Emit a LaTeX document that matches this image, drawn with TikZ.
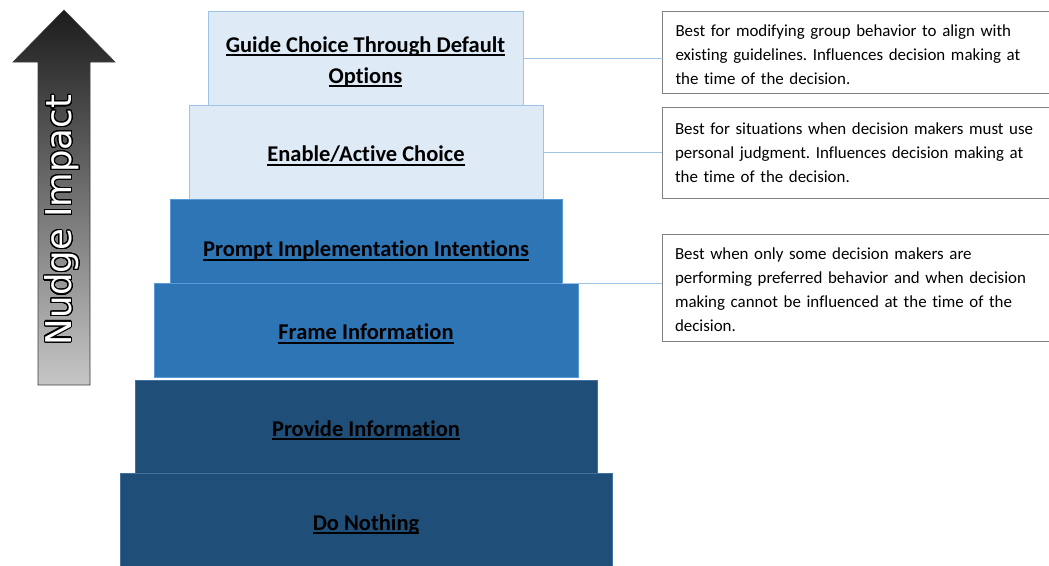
\documentclass[tikz,border=0pt]{standalone}
\usepackage{fontspec}
\setmainfont{Carlito}[Ligatures=NoCommon]
\newfontfamily\dejavu{DejaVu Sans}
\usepackage{contour}
\contourlength{1.1pt}
\contournumber{32}
\frenchspacing
\definecolor{lightfill}{HTML}{DEEBF7}
\definecolor{lightdraw}{HTML}{9DC3E6}
\definecolor{midfill}{HTML}{2E75B6}
\definecolor{middraw}{HTML}{5B9BD5}
\definecolor{darkfill}{HTML}{1F4E79}
\definecolor{darkdraw}{HTML}{41719C}
\definecolor{connc}{HTML}{9DC3E6}
\definecolor{boxgray}{HTML}{808080}
% underline; optional arg = extra space reserved above (moves text down by half of it)
\newcommand\myul[2][0pt]{\raisebox{0pt}[\dimexpr\height+#1\relax][\depth]{\setbox0=\hbox{#2}\rlap{\rule[-3.8pt]{\wd0}{1.9pt}}\box0}}
\tikzset{
  stepbase/.style={rectangle, inner sep=0pt, outer sep=0pt, line width=0.9pt,
    font=\bfseries\fontsize{22.5}{31}\selectfont, align=center, text=black},
  lightbox/.style={stepbase, fill=lightfill, draw=lightdraw},
  midbox/.style={stepbase, fill=midfill, draw=middraw},
  darkbox/.style={stepbase, fill=darkfill, draw=darkdraw},
  notebox/.style={rectangle, draw=boxgray, fill=white, line width=0.9pt, outer sep=0pt,
    inner xsep=13pt, inner ysep=0pt, text width=363pt, align=left,
    font=\fontsize{16.9}{24}\selectfont},
  conn/.style={draw=connc, line width=0.9pt}
}
\begin{document}
\begin{tikzpicture}[x=1pt,y=-1pt]
\useasboundingbox (0,0) rectangle (1049,565);
% arrow
\path[top color={rgb,255:red,28;green,28;blue,28}, bottom color={rgb,255:red,198;green,198;blue,198}, draw={rgb,255:red,60;green,60;blue,60}, line width=0.6pt]
  (64,10) -- (115,62) -- (90,62) -- (90,385) -- (38,385) -- (38,62) -- (13,62) -- cycle;
\node[rotate=90, text=white, font=\dejavu\fontsize{35.5}{36}\selectfont, inner sep=0pt] (nudge) at (62,220) {\contour{black}{Nudge Impact}};
% steps
\node[lightbox, minimum width=315, minimum height=94] (guide) at (365.5,58) {\myul[8pt]{Guide Choice Through Default}\\\myul{Options}};
\node[lightbox, minimum width=354, minimum height=94] (enable) at (366,152) {\myul[8pt]{Enable/Active Choice}};
\node[midbox, minimum width=392, minimum height=84] (prompt) at (366,241) {\myul[20pt]{Prompt Implementation Intentions}};
\node[midbox, minimum width=424, minimum height=94] (frame) at (366,330) {\myul[8pt]{Frame Information}};
\node[darkbox, minimum width=462, minimum height=94] (provide) at (366,427) {\myul[6pt]{Provide Information}};
\node[darkbox, minimum width=492, minimum height=93] (nothing) at (366,520) {\myul[9pt]{Do Nothing}};
% notes
\node[notebox, minimum height=82] (t1) at (857,52) {\rule{0pt}{18pt}Best for modifying group behavior to align with\\existing guidelines. Influences decision making at\\the time of the decision.};
\node[notebox, minimum height=91] (t2) at (856.5,152.5) {Best for situations when decision makers must use\\personal judgment. Influences decision making at\\the time of the decision.};
\node[notebox, minimum height=107] (t3) at (856.5,287.5) {\rule{0pt}{16pt}Best when only some decision makers are\\performing preferred behavior and when decision\\making cannot be influenced at the time of the\\decision.};
% connectors
\draw[conn] (guide.east) -- (guide.east -| t1.west);
\draw[conn] (enable.east) -- (enable.east -| t2.west);
\draw[conn] (prompt.south east) -- (prompt.south east -| t3.west);
\end{tikzpicture}
\end{document}
